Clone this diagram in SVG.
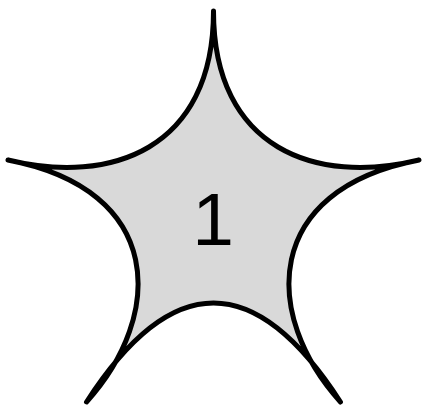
<svg xmlns="http://www.w3.org/2000/svg" width="422" height="406" viewBox="0 0 422 406">
  <style>
    .star { fill: #d9d9d9; stroke: #000000; stroke-width: 5; stroke-linejoin: round; stroke-linecap: round; }
    .label { font-family: "Liberation Sans", Arial, sans-serif; font-size: 75px; fill: #000000; text-anchor: middle; }
  </style>
  <g id="node1">
    <path class="star" d="M 213.5,11 C 213.5,150 317,185 419,160 C 262,190 262,315 340.5,402 C 255.5,270 171.5,270 86.5,402 C 165,315 165,190 8,160 C 110,185 213.5,150 213.5,11 Z"/>
    <text class="label" x="213" y="245">1</text>
  </g>
</svg>
